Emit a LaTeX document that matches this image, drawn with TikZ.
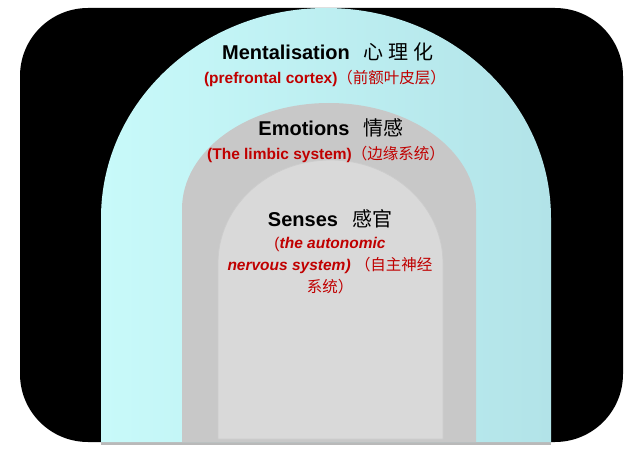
\documentclass[tikz,border=0pt]{standalone}
\usepackage{fontspec}
\setmainfont{Liberation Sans}
\newfontfamily\cjk{Noto Sans CJK SC}
\usetikzlibrary{positioning}
\definecolor{cyanL}{RGB}{200,250,250}
\definecolor{cyanR}{RGB}{178,227,232}
\definecolor{midgrey}{RGB}{200,200,200}
\definecolor{lightgrey}{RGB}{217,217,217}
\definecolor{redtxt}{RGB}{192,0,0}

\begin{document}
\begin{tikzpicture}[x=1pt,y=-1pt,
  title/.style={font=\bfseries\fontsize{20}{24}\selectfont},
  brain/.style={text=redtxt,font=\fontsize{15.5}{22}\selectfont,align=center}]
\useasboundingbox (0,0) rectangle (643,452);
% frame
\fill[black, rounded corners=68pt] (20,8) rectangle (623,442);
% arches
\fill[gray!55] (101,442) rectangle (551,445);
\shade[left color=cyanL, right color=cyanR] (101,442) -- (101,218)
  arc[start angle=180, end angle=0, x radius=225pt, y radius=210pt] -- (551,442) -- cycle;
\fill[midgrey] (182,442) -- (182,209)
  arc[start angle=180, end angle=0, x radius=147pt, y radius=106pt] -- (476,442) -- cycle;
\fill[lightgrey, draw=gray!40, line width=0.8pt] (218,439) -- (218,263)
  arc[start angle=180, end angle=0, x radius=112.5pt, y radius=103pt] -- (443,439) -- cycle;
% labels
\node[title] (ment) at (328,52) {Mentalisation\hspace{0.7em}{\mdseries\cjk 心\hspace{5pt}理\hspace{5pt}化}};
\node[brain] (pfc) at (325,78) {\textbf{(prefrontal cortex)}{\cjk （前额叶皮层）}};
\node[title] (emo) at (331,128) {Emotions\hspace{0.7em}{\mdseries\cjk 情感}};
\node[brain] (limbic) at (326,154) {\textbf{(The limbic system)}{\cjk （边缘系统）}};
\node[title] (sens) at (330,219) {Senses\hspace{0.7em}{\mdseries\cjk 感官}};
\node[brain] (ans) at (330,266) {(\textbf{\itshape the autonomic}\\
  \textbf{\itshape nervous system)} {\cjk （自主神经}\\
  {\cjk 系统）}};
\end{tikzpicture}
\end{document}
